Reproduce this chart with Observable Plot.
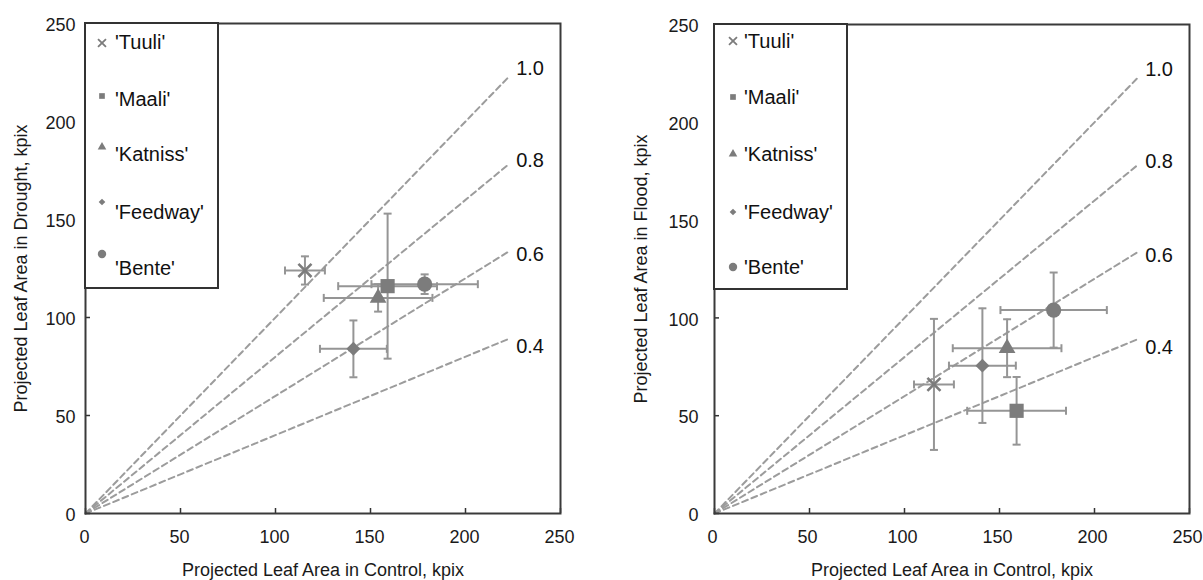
<!DOCTYPE html>
<html><head><meta charset="utf-8">
<script src="https://cdn.jsdelivr.net/npm/d3@7"></script>
<script src="https://cdn.jsdelivr.net/npm/@observablehq/plot@0.6"></script>
<style>
html,body{margin:0;padding:0;background:#fff;overflow:hidden}
#row{display:flex;width:1203px;height:580px}
svg{font-family:"Liberation Sans",Arial,sans-serif;display:block}
</style></head><body><div id="row"></div>
<script>
// ---- data ----
const varieties = ["'Tuuli'", "'Maali'", "'Katniss'", "'Feedway'", "'Bente'"];
const symbols = ["times", "square", "triangle", "diamond2", "circle"];
const controlMean = [115.5, 159, 154, 141, 178.5];
const controlSd   = [10.5, 26, 28.6, 17.6, 28];
const droughtMean = [124, 116, 110, 84, 117];
const droughtSd   = [7.2, 37, 7, 14.5, 5];
const floodMean   = [66, 52.5, 84.5, 75.6, 104];
const floodSd     = [33.5, 17.3, 14.8, 29.3, 19.2];
const ratios = [1.0, 0.8, 0.6, 0.4];
const ratioLineEnd = 223;
const ratioLabelX = 234;
const ratioLabelY = [227, 180, 132, 85];
const xTicks = [0, 50, 100, 150, 200, 250];
const yTicks = [0, 50, 100, 150, 200, 250];

const markColor = "#7c7c7c";
const ebColor = "#959595";
const font = '"Liberation Sans", Arial, sans-serif';

function panel(o) {
  const rows = varieties.map((v, i) => ({v, sym: symbols[i], x: controlMean[i], xs: controlSd[i], y: o.resp[i], ys: o.respSd[i]}));
  const lines = ratios.flatMap(r => [{r, x: 0, y: 0}, {r, x: ratioLineEnd, y: ratioLineEnd * r}]);
  const capV = {draw(ctx) { ctx.moveTo(0, -4); ctx.lineTo(0, 4); }};
  const capH = {draw(ctx) { ctx.moveTo(-4, 0); ctx.lineTo(4, 0); }};
  const radius = {times: 6, square: 8, triangle: 6.2, diamond2: 6.3, circle: 7.6};
  const ebStyle = {stroke: ebColor, strokeWidth: 2};
  const marks = [
    Plot.line(lines, {x: "x", y: "y", z: "r", stroke: "#9c9c9c", strokeWidth: 2, strokeDasharray: "6,4"}),
    Plot.text(ratios, {x: () => ratioLabelX, y: (d, i) => ratioLabelY[i], text: d => d.toFixed(1), fontSize: 20, fill: "#111"}),
    Plot.ruleY(rows, {y: "y", x1: d => d.x - d.xs, x2: d => d.x + d.xs, ...ebStyle}),
    Plot.ruleX(rows, {x: "x", y1: d => d.y - d.ys, y2: d => d.y + d.ys, ...ebStyle}),
    Plot.dot(rows, {x: d => d.x - d.xs, y: "y", symbol: capV, fill: "none", ...ebStyle}),
    Plot.dot(rows, {x: d => d.x + d.xs, y: "y", symbol: capV, fill: "none", ...ebStyle}),
    Plot.dot(rows, {x: "x", y: d => d.y - d.ys, symbol: capH, fill: "none", ...ebStyle}),
    Plot.dot(rows, {x: "x", y: d => d.y + d.ys, symbol: capH, fill: "none", ...ebStyle}),
    ...rows.map(d => Plot.dot([d], {x: "x", y: "y", symbol: d.sym, r: radius[d.sym],
      fill: d.sym === "times" ? "none" : markColor, stroke: d.sym === "times" ? markColor : "none", strokeWidth: 2.6})),
    Plot.axisX({ticks: xTicks, tickSize: 0, tickPadding: 17, dx: o.xdx, fontSize: 18, label: null}),
    Plot.axisX({ticks: [], tickSize: 0, label: "Projected Leaf Area in Control, kpix", fontSize: 18,
      labelAnchor: "center", labelArrow: "none", labelOffset: 62}),
    Plot.axisX({ticks: xTicks, tickSize: 5, dy: -5, tickFormat: () => "", label: null, stroke: "#333", strokeWidth: 1.5}),
    Plot.axisY({ticks: yTicks, tickSize: 0, tickPadding: o.yPad, dy: 2, fontSize: 18, label: o.yLabel,
      labelAnchor: "center", labelArrow: "none", labelOffset: o.yLabelOffset}),
    Plot.axisY({ticks: yTicks, tickSize: 5, dx: 5, tickFormat: () => "", label: null, stroke: "#333", strokeWidth: 1.5}),
    Plot.frame({stroke: "#3a3a3a", strokeWidth: 2})
  ];
  const svg = Plot.plot({
    width: o.width, height: 580,
    marginLeft: o.ml, marginRight: o.mr, marginTop: o.mt, marginBottom: 67,
    x: {domain: [0, 250]}, y: {domain: [0, 250]},
    style: {fontFamily: font, fontSize: "18px", color: "#1a1a1a", background: "#fff", overflow: "visible"},
    marks
  });
  // legend box
  const g = d3.select(svg).append("g").attr("transform", `translate(${o.ml},${o.mt})`);
  g.append("rect").attr("width", 133).attr("height", 265).attr("fill", "#fff").attr("stroke", "#333").attr("stroke-width", 2);
  const legR = {times: 3.7, square: 3.2, triangle: 3.2, diamond2: 3, circle: 4.2};
  const symMap = {times: d3.symbolTimes, square: d3.symbolSquare, triangle: d3.symbolTriangle, diamond2: d3.symbolDiamond2, circle: d3.symbolCircle};
  varieties.forEach((v, i) => {
    const s = symbols[i];
    g.append("path")
      .attr("d", d3.symbol(symMap[s], Math.PI * legR[s] * legR[s])())
      .attr("transform", `translate(${o.legSymX},${o.legSymY[i]})`)
      .attr("fill", s === "times" ? "none" : markColor)
      .attr("stroke", s === "times" ? markColor : "none")
      .attr("stroke-width", 1.8);
    g.append("text").attr("x", 30).attr("y", o.legTextY[i]).attr("dy", "0.35em")
      .attr("text-anchor", "start")
      .attr("font-size", 20).attr("fill", "#111").text(v);
  });
  return svg;
}

const row = document.getElementById("row");
row.appendChild(panel({resp: droughtMean, respSd: droughtSd, yLabel: "Projected Leaf Area in Drought, kpix",
  width: 601, ml: 85, mr: 41, mt: 23, yPad: 10, yLabelOffset: 71, xdx: -1,
  legSymX: 17, legSymY: [20, 73, 124, 179, 231], legTextY: [19, 76, 131, 189, 245]}));
row.appendChild(panel({resp: floodMean, respSd: floodSd, yLabel: "Projected Leaf Area in Flood, kpix",
  width: 602, ml: 113, mr: 14, mt: 24, yPad: 16, yLabelOffset: 80, xdx: -2,
  legSymX: 19, legSymY: [17, 73, 130, 188, 243], legTextY: [17, 73, 130, 188, 243]}));
</script></body></html>
